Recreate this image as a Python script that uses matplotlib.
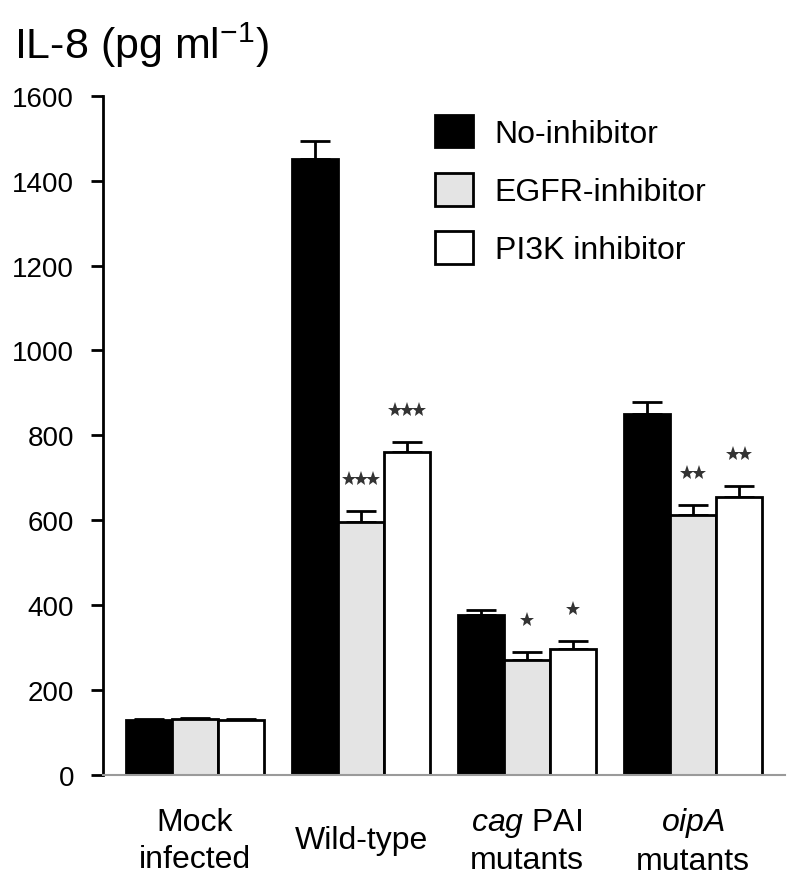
import matplotlib
matplotlib.use("Agg")
import matplotlib.pyplot as plt
import numpy as np

plt.rcParams["font.family"] = ["Liberation Sans", "DejaVu Sans"]
plt.rcParams["mathtext.fontset"] = "custom"
plt.rcParams["mathtext.rm"] = "Liberation Sans"
plt.rcParams["mathtext.it"] = "Liberation Sans:italic"

groups = ["Mock\ninfected", "Wild-type", r"$\it{cag}$ PAI" + "\nmutants", r"$\it{oipA}$" + "\nmutants"]
series = ["No-inhibitor", "EGFR-inhibitor", "PI3K inhibitor"]
no_inhibitor = [130, 1452, 377, 850]
egfr_inhibitor = [132, 595, 272, 612]
pi3k_inhibitor = [130, 760, 298, 655]
no_inhibitor_err = [3, 42, 13, 28]
egfr_inhibitor_err = [2, 27, 18, 25]
pi3k_inhibitor_err = [2, 25, 18, 26]
# number of significance stars per bar
no_inhibitor_sig = [0, 0, 0, 0]
egfr_inhibitor_sig = [0, 3, 1, 2]
pi3k_inhibitor_sig = [0, 3, 1, 2]
yticks = [0, 200, 400, 600, 800, 1000, 1200, 1400, 1600]

fig = plt.figure(figsize=(8, 8.87), dpi=100)
ax = fig.add_axes([0.129, 0.125, 0.852, 0.766])

x = np.arange(len(groups))
w = 0.277
colors = ["black", "#e4e4e4", "white"]
data = [
    (no_inhibitor, no_inhibitor_err, no_inhibitor_sig),
    (egfr_inhibitor, egfr_inhibitor_err, egfr_inhibitor_sig),
    (pi3k_inhibitor, pi3k_inhibitor_err, pi3k_inhibitor_sig),
]
for i, (vals, errs, sigs) in enumerate(data):
    pos = x + (i - 1) * w
    ax.errorbar(pos, vals, yerr=[np.zeros(len(vals)), errs], fmt="none",
                ecolor="black", elinewidth=2, capsize=11, capthick=2, zorder=1)
    ax.bar(pos, vals, w, color=colors[i], edgecolor="black", linewidth=2,
           label=series[i], zorder=2)
    for p, v, e, s in zip(pos, vals, errs, sigs):
        if s:
            sx = p + (np.arange(s) - (s - 1) / 2) * 0.075
            ax.plot(sx, np.full(s, v + e + 75), ls="none", marker="*",
                    markersize=11, color="#333333", markeredgewidth=0)

ax.set_xlim(-0.554, 3.554)
ax.set_ylim(0, 1600)
ax.set_yticks(yticks)
ax.set_xticks(x)
ax.set_xticklabels(groups, fontsize=23, linespacing=1.28)
for lbl in ax.get_xticklabels():
    lbl.set_va("center")
ax.tick_params(axis="x", length=0, pad=47)
ax.tick_params(axis="y", direction="out", length=9, width=2, labelsize=20, pad=12)

for side in ["top", "right"]:
    ax.spines[side].set_visible(False)
ax.spines["left"].set_linewidth(2)
ax.spines["bottom"].set_color("#9a9a9a")
ax.spines["bottom"].set_linewidth(1.5)

ax.legend(loc="upper left", bbox_to_anchor=(0.487, 0.972), frameon=False,
          fontsize=23, handlelength=1.2, handleheight=1.2, handletextpad=0.66,
          labelspacing=0.75, borderpad=0, borderaxespad=0)

fig.text(0.017, 0.949, "IL-8 (pg ml$^{-1}$)", fontsize=31, va="center", ha="left")

fig.savefig("out.png", dpi=100)
